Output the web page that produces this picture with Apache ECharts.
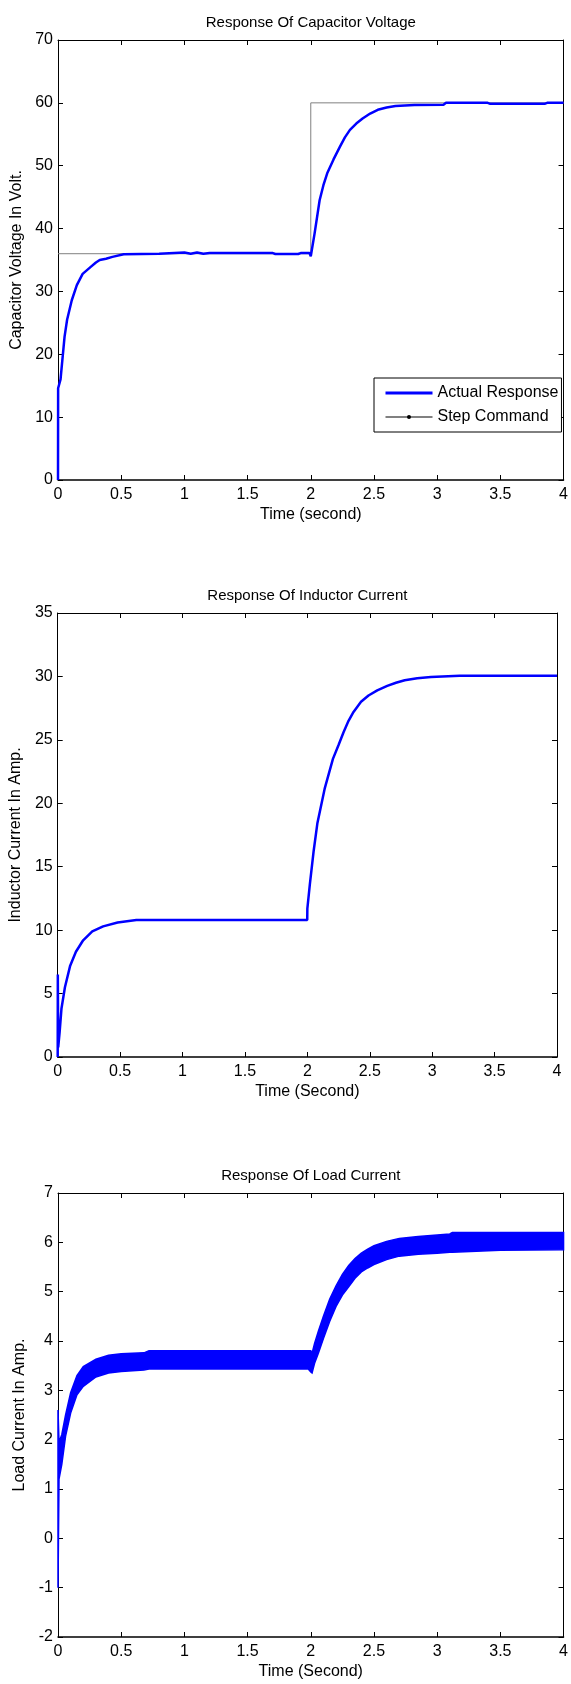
<!DOCTYPE html>
<html>
<head>
<meta charset="utf-8">
<title>Response curves</title>
<script src="https://cdn.jsdelivr.net/npm/echarts@6/dist/echarts.min.js"></script>
<style>
    html, body { margin: 0; padding: 0; background: #fff; }
    #main { width: 571px; height: 1684px; }
</style>
</head>
<body>
<div id="main"></div>
<script>
// ---------------------------------------------------------------------------
// data
// ---------------------------------------------------------------------------
var timeTicks = [0, 0.5, 1, 1.5, 2, 2.5, 3, 3.5, 4];

// capacitor voltage
var capTicks = [0, 10, 20, 30, 40, 50, 60, 70];
var capTime = [0, 0.001, 0.02, 0.052, 0.072, 0.109, 0.149, 0.195, 0.259, 0.3, 0.33, 0.38, 0.43, 0.52, 0.8, 1.0, 1.05,
    1.1, 1.15, 1.2, 1.7, 1.72, 1.9, 1.92, 1.99, 2.0, 2.01, 2.03, 2.07, 2.1, 2.13, 2.18, 2.23, 2.27, 2.31, 2.36, 2.41,
    2.47, 2.53, 2.6, 2.67, 2.82, 3.05, 3.07, 3.4, 3.42, 3.85, 3.87, 4.0];
var capVolt = [0, 14.6, 16, 22.8, 25.5, 28.6, 31.0, 32.8, 33.9, 34.6, 35.0, 35.2, 35.5, 35.9, 36, 36.2, 36,
    36.2, 36, 36.1, 36.1, 35.95, 35.95, 36.1, 36.1, 35.6, 35.9, 39.2, 44.5, 46.9, 48.8, 51, 53, 54.5, 55.7, 56.7, 57.5,
    58.3, 58.9, 59.25, 59.5, 59.65, 59.7, 60, 60, 59.85, 59.85, 60, 60];
var stepTime = [0, 2, 2, 4];
var stepVolt = [36, 36, 60, 60];

// inductor current
var indTicks = [0, 5, 10, 15, 20, 25, 30, 35];
var indTime = [0, 0.001, 0.004, 0.015, 0.03, 0.058, 0.1, 0.146, 0.204, 0.277, 0.364, 0.48, 0.63, 1.0, 1.5, 1.999,
    2.0, 2.02, 2.05, 2.08, 2.14, 2.205, 2.25, 2.29, 2.33, 2.37, 2.43, 2.49, 2.56, 2.64, 2.71, 2.78, 2.88, 2.99, 3.22, 4.0];
var indCurr = [0, 6.5, 0.75, 1.9, 3.8, 5.5, 7.2, 8.3, 9.2, 9.9, 10.3, 10.6, 10.8, 10.8, 10.8, 10.8,
    11.7, 13.6, 16.2, 18.4, 21.2, 23.5, 24.6, 25.6, 26.5, 27.2, 28.0, 28.5, 28.9, 29.25, 29.5, 29.7, 29.85, 29.95, 30.05, 30.05];

// load current (ripple band: upper / lower envelope)
var loadTicks = [-2, -1, 0, 1, 2, 3, 4, 5, 6, 7];
var loadTime = [0, 0.008, 0.03, 0.06, 0.1, 0.15, 0.2, 0.3, 0.4, 0.5, 0.68, 0.72, 1.0, 1.5, 1.98, 2.0, 2.01, 2.03,
    2.06, 2.1, 2.15, 2.2, 2.25, 2.3, 2.35, 2.4, 2.45, 2.5, 2.6, 2.7, 2.85, 3.0, 3.1, 3.12, 3.5, 4.0];
var loadUpper = [2.6, 1.95, 2.1, 2.5, 2.95, 3.3, 3.48, 3.63, 3.71, 3.74, 3.76, 3.8, 3.8, 3.8, 3.8, 3.8, 3.75, 3.95,
    4.2, 4.5, 4.85, 5.12, 5.35, 5.53, 5.67, 5.78, 5.86, 5.93, 6.02, 6.08, 6.12, 6.15, 6.17, 6.2, 6.2, 6.2];
var loadLower = [-1.0, 1.2, 1.5, 2.07, 2.54, 2.91, 3.08, 3.27, 3.35, 3.38, 3.41, 3.43, 3.43, 3.43, 3.43, 3.37, 3.35, 3.55,
    3.75, 4.05, 4.4, 4.7, 4.93, 5.1, 5.27, 5.4, 5.48, 5.55, 5.65, 5.72, 5.76, 5.78, 5.8, 5.8, 5.84, 5.85];

// ---------------------------------------------------------------------------
// helpers
// ---------------------------------------------------------------------------
var font = 'Liberation Sans, Arial, Helvetica, sans-serif';
var xAxes = [];
var yAxes = [];

function zip(xs, ys) {
    return xs.map(function (x, i) { return [x, ys[i]]; });
}

// matlab style box: ticks inside on all four sides
function boxAxes(g, title, xName, yName, yTicks, yGap) {
    var tick = { show: true, inside: true, length: 5, lineStyle: { color: '#000', width: 1 } };
    var line = { show: true, onZero: false, lineStyle: { color: '#000', width: 1 } };
    var nameStyle = { color: '#000', fontSize: 16, fontFamily: font };
    var xr = { min: timeTicks[0], max: timeTicks[timeTicks.length - 1], interval: timeTicks[1] - timeTicks[0] };
    var yr = { min: yTicks[0], max: yTicks[yTicks.length - 1], interval: yTicks[1] - yTicks[0] };

    xAxes.push(Object.assign({
        type: 'value', gridIndex: g, position: 'bottom',
        axisLine: { show: true, onZero: false, lineStyle: { color: '#000', width: 1.5 } }, axisTick: tick,
        splitLine: { show: false },
        axisLabel: { color: '#000', fontSize: 16, fontFamily: font, margin: 7 },
        name: xName, nameLocation: 'middle', nameGap: 27, nameTextStyle: nameStyle
    }, xr));
    xAxes.push(Object.assign({
        type: 'value', gridIndex: g, position: 'top',
        axisLine: line, axisTick: tick, splitLine: { show: false }, axisLabel: { show: false },
        name: title, nameLocation: 'middle', nameGap: 10,
        nameTextStyle: { color: '#000', fontSize: 15, fontFamily: font }
    }, xr));
    yAxes.push(Object.assign({
        type: 'value', gridIndex: g, position: 'left',
        axisLine: line, axisTick: tick, splitLine: { show: false },
        axisLabel: { color: '#000', fontSize: 16, fontFamily: font, margin: 5 },
        name: yName, nameLocation: 'middle', nameGap: yGap, nameTextStyle: nameStyle
    }, yr));
    yAxes.push(Object.assign({
        type: 'value', gridIndex: g, position: 'right',
        axisLine: line, axisTick: tick, splitLine: { show: false }, axisLabel: { show: false }
    }, yr));
}

boxAxes(0, 'Response Of Capacitor Voltage', 'Time (second)', 'Capacitor Voltage In Volt.', capTicks, 26);
boxAxes(1, 'Response Of Inductor Current', 'Time (Second)', 'Inductor Current In Amp.', indTicks, 25);
boxAxes(2, 'Response Of Load Current', 'Time (Second)', 'Load Current In Amp.', loadTicks, 22);

// ---------------------------------------------------------------------------
// chart
// ---------------------------------------------------------------------------
var myChart = echarts.init(document.getElementById('main'), null, { renderer: 'canvas' });

var option = {
    animation: false,
    backgroundColor: '#fff',
    grid: [
        { left: 58, top: 40, width: 508, height: 440 },
        { left: 57, top: 613, width: 500, height: 444 },
        { left: 58, top: 1193, width: 508, height: 444 }
    ],
    xAxis: xAxes,
    yAxis: yAxes,
    legend: {
        data: [
            // plain thick line, no marker for the response
            { name: 'Actual Response', itemStyle: { opacity: 0 }, lineStyle: { width: 3 } },
            'Step Command'
        ],
        orient: 'vertical',
        left: 374, top: 378,
        padding: [7, 3, 7, 10],
        itemGap: 8,
        itemWidth: 47, itemHeight: 5,
        backgroundColor: '#fff', borderColor: '#000', borderWidth: 1, borderRadius: 0,
        textStyle: { color: '#000', fontSize: 16, fontFamily: font }
    },
    series: [
        {
            name: 'Actual Response', type: 'line', xAxisIndex: 0, yAxisIndex: 0,
            data: zip(capTime, capVolt), symbol: 'none', z: 3,
            lineStyle: { color: '#0000ff', width: 2.5 }, itemStyle: { color: '#0000ff' }
        },
        {
            name: 'Step Command', type: 'line', xAxisIndex: 0, yAxisIndex: 0,
            data: zip(stepTime, stepVolt), symbol: 'circle', symbolSize: 4, showSymbol: false, z: 2,
            lineStyle: { color: '#808080', width: 1 }, itemStyle: { color: '#000' }
        },
        {
            name: 'Inductor Current', type: 'line', xAxisIndex: 2, yAxisIndex: 2,
            data: zip(indTime, indCurr), symbol: 'none',
            lineStyle: { color: '#0000ff', width: 2.5 }
        },
        {
            // ripple band of the load current, upper edge then lower edge back
            name: 'Load Current', type: 'custom', xAxisIndex: 4, yAxisIndex: 4,
            data: [[0, 0]],
            renderItem: function (params, api) {
                var pts = [];
                for (var i = 0; i < loadTime.length; i++) {
                    pts.push(api.coord([loadTime[i], loadUpper[i]]));
                }
                for (var j = loadTime.length - 1; j >= 0; j--) {
                    pts.push(api.coord([loadTime[j], loadLower[j]]));
                }
                return {
                    type: 'polygon',
                    shape: { points: pts },
                    style: { fill: '#0000ff', stroke: '#0000ff', lineWidth: 1.5 }
                };
            }
        }
    ]
};
myChart.setOption(option);
</script>
</body>
</html>
